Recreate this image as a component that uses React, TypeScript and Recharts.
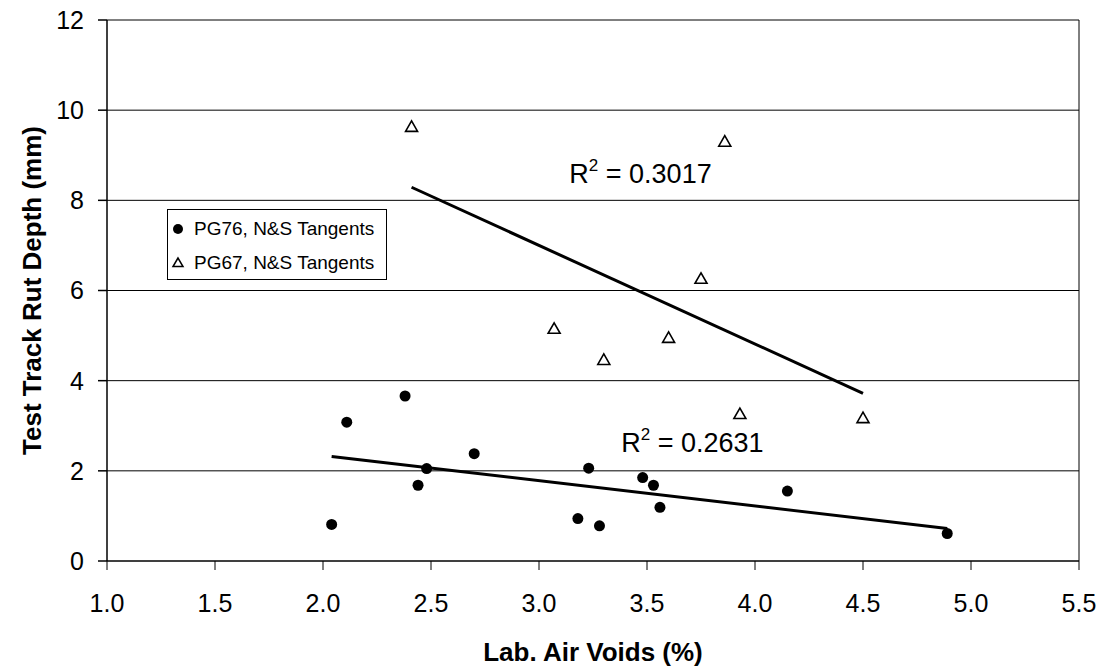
import React from 'react';
import {
  ScatterChart,
  Scatter,
  XAxis,
  YAxis,
  CartesianGrid,
  ReferenceLine,
  ReferenceDot,
  Legend,
  Label,
} from 'recharts';

document.body.style.margin = '0';

// PG76, N&S Tangents (filled circles)
const pg76Voids = [2.04, 2.11, 2.38, 2.44, 2.48, 2.7, 3.18, 3.23, 3.28, 3.48, 3.53, 3.56, 4.15, 4.89];
const pg76Rut = [0.81, 3.08, 3.66, 1.68, 2.05, 2.38, 0.94, 2.06, 0.78, 1.85, 1.68, 1.19, 1.55, 0.61];

// PG67, N&S Tangents (open triangles)
const pg67Voids = [2.41, 3.07, 3.3, 3.6, 3.75, 3.86, 3.93, 4.5];
const pg67Rut = [9.63, 5.15, 4.46, 4.95, 6.26, 9.3, 3.26, 3.17];

// linear trend lines, end points
const pg76TrendVoids = [2.04, 4.89];
const pg76TrendRut = [2.32, 0.72];
const pg67TrendVoids = [2.41, 4.5];
const pg67TrendRut = [8.29, 3.72];

const seriesNames = ['PG76, N&S Tangents', 'PG67, N&S Tangents'];
const r2Values = ['0.3017', '0.2631'];

const xTicks = [1, 1.5, 2, 2.5, 3, 3.5, 4, 4.5, 5, 5.5];
const yTicks = [0, 2, 4, 6, 8, 10, 12];

const toPoints = (xs: number[], ys: number[]) => xs.map((x, i) => ({ x, y: ys[i] }));

const pg76 = toPoints(pg76Voids, pg76Rut);
const pg67 = toPoints(pg67Voids, pg67Rut);
const pg76Trend = toPoints(pg76TrendVoids, pg76TrendRut);
const pg67Trend = toPoints(pg67TrendVoids, pg67TrendRut);

const FONT = 'Arial, "Liberation Sans", sans-serif';

const Dot = (props: any) => <circle cx={props.cx} cy={props.cy} r={5.5} fill="#000" />;

const Triangle = (props: any) => {
  const { cx, cy } = props;
  return (
    <polygon
      points={`${cx},${cy - 6} ${cx - 6},${cy + 4.5} ${cx + 6},${cy + 4.5}`}
      fill="#fff"
      stroke="#000"
      strokeWidth={1.6}
    />
  );
};

const NoShape = () => <g />;

const R2Label = ({ viewBox, value }: any) => (
  <text x={viewBox.x} y={viewBox.y} textAnchor="middle" fontSize={27} fontFamily={FONT} fill="#000">
    R
    <tspan fontSize={17} dy={-12}>2</tspan>
    <tspan dy={12}>{` = ${value}`}</tspan>
  </text>
);

const XTitle = ({ viewBox }: any) => (
  <text
    x={viewBox.x + viewBox.width / 2}
    y={viewBox.y + 91}
    textAnchor="middle"
    dominantBaseline="central"
    fontSize={26}
    fontWeight="bold"
    fontFamily={FONT}
    fill="#000"
  >
    Lab. Air Voids (%)
  </text>
);

const YTitle = ({ viewBox }: any) => {
  const cx = viewBox.x + 32;
  const cy = viewBox.y + viewBox.height / 2;
  return (
    <text
      x={cx}
      y={cy}
      transform={`rotate(-90 ${cx} ${cy})`}
      textAnchor="middle"
      dominantBaseline="central"
      fontSize={26}
      fontWeight="bold"
      fontFamily={FONT}
      fill="#000"
    >
      Test Track Rut Depth (mm)
    </text>
  );
};

const LegendBox = () => (
  <div
    style={{
      width: 220,
      height: 71,
      boxSizing: 'border-box',
      border: '1px solid #000',
      background: '#fff',
      fontFamily: FONT,
      fontSize: 19,
      color: '#000',
      paddingTop: 2,
    }}
  >
    {seriesNames.map((name, i) => (
      <div key={name} style={{ display: 'flex', alignItems: 'center', height: 34 }}>
        <svg width={26} height={20} style={{ flex: 'none' }}>
          {i === 0 ? (
            <circle cx={10} cy={10} r={5} fill="#000" />
          ) : (
            <polygon points="10,5 5,13.5 15,13.5" fill="#fff" stroke="#000" strokeWidth={1.5} />
          )}
        </svg>
        <span>{name}</span>
      </div>
    ))}
  </div>
);

export default function App() {
  return (
    <div style={{ width: 1102, height: 667, background: '#fff' }}>
      <ScatterChart width={1102} height={667} margin={{ top: 20, right: 23, bottom: 0, left: 0 }}>
        <CartesianGrid horizontal vertical={false} stroke="#000" strokeWidth={1} />
        <XAxis
          type="number"
          dataKey="x"
          domain={[1, 5.5]}
          ticks={xTicks}
          tickFormatter={(v: number) => v.toFixed(1)}
          allowDataOverflow
          height={106}
          tickSize={9}
          tickMargin={24}
          stroke="#000"
          tick={{ fill: '#000', fontSize: 25, fontFamily: FONT }}
        >
          <Label content={XTitle} />
        </XAxis>
        <YAxis
          type="number"
          dataKey="y"
          domain={[0, 12]}
          ticks={yTicks}
          allowDataOverflow
          width={107}
          tickSize={9}
          tickMargin={14}
          stroke="#000"
          strokeWidth={1.5}
          tick={{ fill: '#000', fontSize: 25, fontFamily: FONT }}
        >
          <Label content={YTitle} />
        </YAxis>
        <ReferenceLine x={5.5} stroke="#000" strokeWidth={1} />
        <Scatter
          name={seriesNames[0]}
          data={pg76}
          shape={Dot}
          isAnimationActive={false}
        />
        <Scatter
          name={seriesNames[1]}
          data={pg67}
          shape={Triangle}
          isAnimationActive={false}
        />
        <Scatter
          data={pg67Trend}
          shape={NoShape}
          line={{ stroke: '#000', strokeWidth: 3 }}
          legendType="none"
          isAnimationActive={false}
        />
        <Scatter
          data={pg76Trend}
          shape={NoShape}
          line={{ stroke: '#000', strokeWidth: 3 }}
          legendType="none"
          isAnimationActive={false}
        />
        <ReferenceDot x={3.47} y={8.39} r={0} label={<R2Label value={r2Values[0]} />} />
        <ReferenceDot x={3.71} y={2.41} r={0} label={<R2Label value={r2Values[1]} />} />
        <Legend
          content={LegendBox}
          layout="vertical"
          align="center"
          verticalAlign="middle"
          wrapperStyle={{ left: 167, top: 209, width: 220, height: 71 }}
        />
      </ScatterChart>
    </div>
  );
}
